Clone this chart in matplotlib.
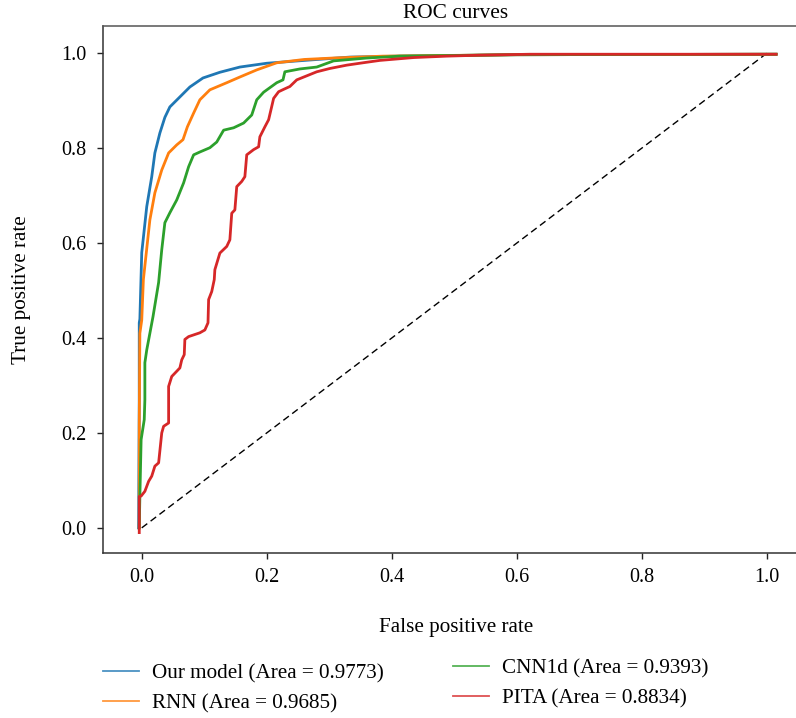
import matplotlib
matplotlib.use("Agg")
import matplotlib.pyplot as plt
from matplotlib.lines import Line2D

plt.rcParams["font.family"] = ["Liberation Serif", "DejaVu Serif"]

# ROC curve points (false positive rate, true positive rate)
our_fpr = [-0.005, -0.004, -0.004, -0.003, 0.0, 0.008, 0.016, 0.021, 0.029, 0.037,
           0.045, 0.061, 0.077, 0.098, 0.125, 0.157, 0.2, 0.25, 0.333, 0.413, 0.6, 1.015]
our_tpr = [0.0, 0.27, 0.432, 0.44, 0.58, 0.677, 0.74, 0.79, 0.832, 0.865,
           0.887, 0.908, 0.929, 0.948, 0.96, 0.971, 0.979, 0.984, 0.992, 0.994, 0.997, 0.998]

rnn_fpr = [-0.004, -0.004, -0.003, 0.0, 0.0026, 0.013, 0.021, 0.032, 0.043, 0.056,
           0.066, 0.073, 0.083, 0.093, 0.109, 0.136, 0.157, 0.184, 0.216, 0.26,
           0.306, 0.386, 0.6, 1.015]
rnn_tpr = [0.0, 0.22, 0.41, 0.438, 0.523, 0.649, 0.706, 0.754, 0.79, 0.807,
           0.818, 0.845, 0.874, 0.902, 0.923, 0.938, 0.95, 0.965, 0.98, 0.987,
           0.99, 0.994, 0.997, 0.998]

cnn_fpr = [-0.004, -0.003, -0.001, 0.004, 0.005, 0.005, 0.008, 0.018, 0.027, 0.032,
           0.037, 0.045, 0.056, 0.067, 0.075, 0.083, 0.093, 0.109, 0.12, 0.131,
           0.147, 0.163, 0.176, 0.184, 0.195, 0.216, 0.226, 0.229, 0.253, 0.28,
           0.307, 0.36, 0.413, 0.6, 1.015]
cnn_tpr = [0.0, 0.066, 0.186, 0.228, 0.27, 0.348, 0.375, 0.445, 0.517, 0.586,
           0.643, 0.664, 0.691, 0.727, 0.761, 0.786, 0.792, 0.801, 0.813, 0.838,
           0.843, 0.853, 0.87, 0.902, 0.918, 0.938, 0.944, 0.961, 0.967, 0.971,
           0.984, 0.99, 0.994, 0.997, 0.998]

pita_fpr = [-0.004, -0.004, -0.001, 0.005, 0.011, 0.016, 0.021, 0.027, 0.032, 0.035,
            0.043, 0.043, 0.048, 0.056, 0.061, 0.064, 0.068, 0.069, 0.075, 0.093,
            0.101, 0.106, 0.107, 0.112, 0.116, 0.117, 0.125, 0.136, 0.141, 0.144,
            0.149, 0.152, 0.16, 0.165, 0.168, 0.179, 0.187, 0.189, 0.197, 0.203,
            0.208, 0.211, 0.219, 0.227, 0.237, 0.248, 0.28, 0.301, 0.328, 0.354,
            0.381, 0.435, 0.488, 0.541, 0.621, 1.015]
pita_tpr = [-0.01, 0.066, 0.067, 0.077, 0.098, 0.109, 0.13, 0.137, 0.2, 0.214,
            0.221, 0.298, 0.319, 0.33, 0.337, 0.354, 0.365, 0.397, 0.403, 0.411,
            0.417, 0.432, 0.481, 0.498, 0.523, 0.544, 0.579, 0.593, 0.607, 0.663,
            0.67, 0.719, 0.73, 0.74, 0.786, 0.797, 0.803, 0.824, 0.845, 0.86,
            0.888, 0.905, 0.919, 0.924, 0.93, 0.944, 0.961, 0.968, 0.975, 0.98,
            0.985, 0.991, 0.994, 0.996, 0.998, 0.998]

labels = ["Our model (Area = 0.9773)", "RNN (Area = 0.9685)",
          "CNN1d (Area = 0.9393)", "PITA (Area = 0.8834)"]
colors = ["#1f77b4", "#ff7f0e", "#2ca02c", "#d62728"]

x_ticks = [0.0, 0.2, 0.4, 0.6, 0.8, 1.0]
y_ticks = [0.0, 0.2, 0.4, 0.6, 0.8, 1.0]

W, H = 796, 718
fig = plt.figure(figsize=(W / 100, H / 100), dpi=100)
ax = fig.add_axes([103 / W, (H - 553) / H, (808.6 - 103) / W, (553 - 26) / H])

ax.plot([0, 1], [0, 1], color="black", lw=1.0, dashes=(5, 3), zorder=1)
for fpr, tpr, c in zip([our_fpr, rnn_fpr, cnn_fpr, pita_fpr],
                       [our_tpr, rnn_tpr, cnn_tpr, pita_tpr], colors):
    ax.plot(fpr, tpr, color=c, lw=2.0, solid_joinstyle="round", zorder=2)

ax.set_xlim(-0.062, 1.067)
ax.set_ylim(-0.053, 1.0575)
ax.set_xticks(x_ticks)
ax.set_yticks(y_ticks)
ax.set_xticklabels([f"{t:.1f}" for t in x_ticks])
ax.set_yticklabels([f"{t:.1f}" for t in y_ticks])
ax.tick_params(direction="out", length=4, width=1.0, labelsize=14.5, color="#222222")
ax.tick_params(axis="y", pad=8)
ax.tick_params(axis="x", pad=7)
ax.spines["right"].set_visible(False)
for s in ["left", "bottom", "top"]:
    ax.spines[s].set_color("#333333")
    ax.spines[s].set_linewidth(1.1)
ax.spines["top"].set_color("#555555")

ax.set_title("ROC curves", fontsize=15.4, pad=6)
ax.set_xlabel("False positive rate", fontsize=15.2, labelpad=22)
ax.set_ylabel("True positive rate", fontsize=15.2, labelpad=22)

handles = [Line2D([], [], color=c, lw=1.3, alpha=0.8) for c in colors]
common = dict(frameon=False, fontsize=15.2, handlelength=1.7, handletextpad=0.6,
              labelspacing=0.45, borderpad=0, borderaxespad=0, loc="upper left")
fig.legend(handles[:2], labels[:2], bbox_to_anchor=(103 / W, 1 - 664 / H), **common)
fig.legend(handles[2:], labels[2:], bbox_to_anchor=(453 / W, 1 - 659 / H), **common)

fig.savefig("out.png", dpi=100)
